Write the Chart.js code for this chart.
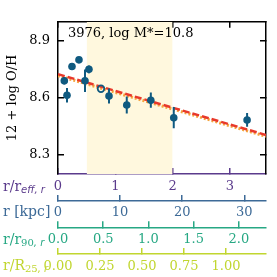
<!DOCTYPE html>
<html>
<head>
<meta charset="utf-8">
<script src="https://cdn.jsdelivr.net/npm/chart.js@4/dist/chart.umd.min.js"></script>
<style>
  html, body { margin: 0; padding: 0; background: #fff; }
</style>
</head>
<body>
<canvas id="chart" width="277" height="277"></canvas>
<script>
// Datos (radio en r/r_eff)
const radius = [0.11, 0.157, 0.244, 0.366, 0.471, 0.54, 0.89, 1.2, 1.62, 2.02, 3.30];
const metal = [8.69, 8.614, 8.765, 8.80, 8.69, 8.75, 8.61, 8.563, 8.588, 8.496, 8.484];
const metalErr = [0.02, 0.038, 0, 0, 0.059, 0.02, 0.04, 0.045, 0.04, 0.056, 0.036];

const openX = [0.75];
const openY = [8.648];

// Extremos de los ajustes lineales
const fitX = [0, 3.63];
const fitRed = [8.725, 8.405];
const fitOrange = [8.717, 8.398];

// Región sombreada
const shadeX = [0.5, 2.0];

// Marcas de los ejes
const yTicks = [8.3, 8.6, 8.9];
const reffTicks = [0, 1, 2, 3];
const kpcTicks = [0, 10, 20, 30];
const r90Ticks = [0.0, 0.5, 1.0, 1.5, 2.0];
const r25Ticks = [0.00, 0.25, 0.50, 0.75, 1.00];

const SERIF = "'DejaVu Serif', serif";
const BLUE = '#0f5a80';
const PURPLE = '#5b3b8c';
const KPC = '#3d6a97';
const GREEN = '#27a884';
const LIME = '#c1d630';

// Construir barras de error con huecos entre segmentos
const errData = [];
radius.forEach((r, i) => {
    if (metalErr[i] > 0) {
        errData.push({x: r, y: metal[i] - metalErr[i]});
        errData.push({x: r, y: metal[i] + metalErr[i]});
        errData.push({x: r, y: null});
    }
});

function secondaryAxis(id, weight, color, min, max, ticks, height, pad, digits) {
    return {
        type: 'linear', position: 'bottom', weight: weight, min: min, max: max,
        afterBuildTicks: s => { s.ticks = ticks.map(v => ({value: v})); },
        afterFit: s => { s.height = height; },
        border: {color: color, width: 1.5},
        grid: {drawOnChartArea: false, tickLength: -6, color: color, lineWidth: 1.5},
        ticks: {padding: pad, color: color, font: {family: SERIF, size: 13}, maxRotation: 0,
                autoSkip: false, callback: v => v.toFixed(digits)}
    };
}

// Títulos de los ejes inferiores a la izquierda, con subíndices
const axisTitles = {
    x: [{t: 'r/r', c: PURPLE}, {t: 'eff, r', c: PURPLE, sub: true, it: true}],
    kpc: [{t: 'r [kpc]', c: KPC}],
    r90: [{t: 'r/r', c: GREEN}, {t: '90', c: GREEN, sub: true}, {t: ', r', c: GREEN, sub: true, it: true}],
    r25: [{t: 'r/R', c: LIME}, {t: '25', c: LIME, sub: true}, {t: ', r', c: LIME, sub: true, it: true}]
};

const labelsPlugin = {
    id: 'labelsPlugin',
    afterDraw(chart) {
        const ctx = chart.ctx;
        ctx.save();
        ctx.textBaseline = 'middle';
        ctx.textAlign = 'left';
        Object.keys(axisTitles).forEach(id => {
            const s = chart.scales[id];
            const y = s.top - 6 + s.options.ticks.padding + 7.8;
            let x = 3;
            axisTitles[id].forEach(p => {
                if (p.sub) {
                    ctx.font = (p.it ? 'italic ' : '') + '10px ' + (p.it ? "'DejaVu Sans', sans-serif" : SERIF);
                } else {
                    ctx.font = '14px ' + SERIF;
                }
                ctx.fillStyle = p.c;
                ctx.fillText(p.t, x, p.sub ? y + 3 : y);
                x += ctx.measureText(p.t).width;
            });
        });
        // Etiqueta del objeto
        const area = chart.chartArea;
        ctx.font = '13px ' + SERIF;
        ctx.fillStyle = '#000';
        ctx.fillText('3976, log M*=10.8', area.left + 10, area.top + 12);
        ctx.restore();
    }
};

const ctx = document.getElementById('chart').getContext('2d');
new Chart(ctx, {
    data: {
        datasets: [
            {
                type: 'line', order: 10,
                data: shadeX.map(v => ({x: v, y: 9.0})),
                fill: 'start', backgroundColor: '#fff8de',
                borderWidth: 0, pointRadius: 0
            },
            {
                type: 'line', order: 5,
                data: fitX.map((v, i) => ({x: v, y: fitOrange[i]})),
                borderColor: '#f5a43c', borderWidth: 3, borderDash: [2, 2],
                pointRadius: 0, fill: false
            },
            {
                type: 'line', order: 4,
                data: fitX.map((v, i) => ({x: v, y: fitRed[i]})),
                borderColor: '#e8392b', borderWidth: 2.5, borderDash: [7, 3],
                pointRadius: 0, fill: false
            },
            {
                type: 'line', order: 3,
                data: errData, spanGaps: false,
                borderColor: BLUE, borderWidth: 2,
                pointRadius: 0, fill: false
            },
            {
                type: 'scatter', order: 2,
                data: radius.map((v, i) => ({x: v, y: metal[i]})),
                backgroundColor: BLUE, borderColor: BLUE,
                pointRadius: 3.8, borderWidth: 0
            },
            {
                type: 'scatter', order: 1,
                data: openX.map((v, i) => ({x: v, y: openY[i]})),
                backgroundColor: 'rgba(0,0,0,0)', borderColor: BLUE,
                pointRadius: 3.3, borderWidth: 1.8
            }
        ]
    },
    options: {
        responsive: false,
        animation: false,
        layout: {padding: {top: 16, right: 11, left: 0, bottom: 0}},
        plugins: {legend: {display: false}, tooltip: {enabled: false}},
        scales: {
            x: secondaryAxis('x', 0, PURPLE, 0, 3.63, reffTicks, 27, 11.2, 0),
            kpc: secondaryAxis('kpc', 1, KPC, 0, 33.5, kpcTicks, 26.3, 9.9, 0),
            r90: secondaryAxis('r90', 2, GREEN, 0, 2.30, r90Ticks, 26.7, 10.9, 1),
            r25: secondaryAxis('r25', 3, LIME, 0, 1.238, r25Ticks, 23, 10.9, 2),
            xTop: {
                type: 'linear', position: 'top', min: 0, max: 3.63,
                afterBuildTicks: s => { s.ticks = reffTicks.map(v => ({value: v})); },
                afterFit: s => { s.height = 0; },
                border: {color: '#000', width: 1.5},
                grid: {drawOnChartArea: false, tickLength: -6, color: '#000', lineWidth: 1.5},
                ticks: {display: false}
            },
            y: {
                type: 'linear', position: 'left', min: 8.2, max: 9.0,
                afterBuildTicks: s => { s.ticks = yTicks.map(v => ({value: v})); },
                afterFit: s => { s.width = 58; },
                border: {color: '#000', width: 1.5},
                grid: {drawOnChartArea: false, tickLength: -6, color: '#000', lineWidth: 1.5},
                ticks: {padding: 14, color: '#000', font: {family: SERIF, size: 13},
                        callback: v => v.toFixed(1)},
                title: {display: true, text: '12 + log O/H', color: '#000',
                        font: {family: SERIF, size: 13}, padding: {top: 5, bottom: 0}}
            },
            yRight: {
                type: 'linear', position: 'right', min: 8.2, max: 9.0,
                afterBuildTicks: s => { s.ticks = yTicks.map(v => ({value: v})); },
                afterFit: s => { s.width = 0; },
                border: {color: '#000', width: 1.5},
                grid: {drawOnChartArea: false, tickLength: -6, color: '#000', lineWidth: 1.5},
                ticks: {display: false}
            }
        }
    },
    plugins: [labelsPlugin]
});
</script>
</body>
</html>
